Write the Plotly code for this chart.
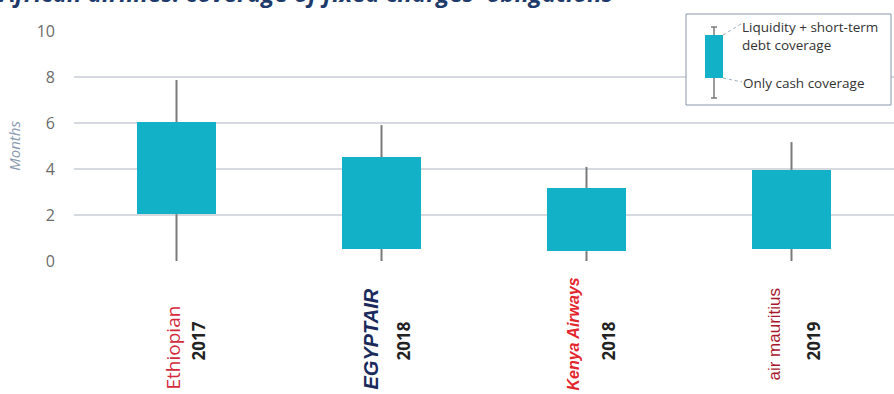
import plotly.graph_objects as go

airlines = ["Ethiopian", "EGYPTAIR", "Kenya Airways", "air mauritius"]
years = ["2017", "2018", "2018", "2019"]
logo_colors = ["#d42a3c", "#1b2a5c", "#e3262e", "#a8162c"]
cash_cov = [2.04, 0.52, 0.43, 0.52]        # box bottom: only cash coverage
liq_cov = [6.04, 4.52, 3.17, 3.96]         # box top: liquidity + short-term debt coverage
whisker_top = [7.87, 5.91, 4.09, 5.17]
whisker_bottom = [0, 0, 0, 0]

xs = list(range(len(airlines)))
TEAL = "#13b1c8"

fig = go.Figure()

# whiskers (two segments each, outside the box)
wx, wy = [], []
for i in xs:
    wx += [i, i, None, i, i, None]
    wy += [whisker_bottom[i], cash_cov[i], None, liq_cov[i], whisker_top[i], None]
fig.add_trace(go.Scatter(x=wx, y=wy, mode="lines",
                         line=dict(color="#7a7a7a", width=2),
                         hoverinfo="skip", showlegend=False))

# boxes
fig.add_trace(go.Bar(x=xs, y=[t - b for t, b in zip(liq_cov, cash_cov)],
                     base=cash_cov, width=0.39,
                     marker=dict(color=TEAL, line=dict(width=0)),
                     showlegend=False))

# page geometry helpers (pixel -> paper)
L, R, T, B = 74, 0, 31, 133
W, H = 894, 394
PW, PH = W - L - R, H - T - B
def px(x):
    return (x - L) / PW
def py(y):
    return (H - B - y) / PH

annotations = []
shapes = []

# title (partly cut off at the top, as in the reference)
annotations.append(dict(
    text="<b><i>African airlines: coverage of fixed charges' obligations</i></b>",
    xref="paper", yref="paper", x=px(-4), y=py(11), xanchor="left", yanchor="bottom",
    showarrow=False, font=dict(size=24, color="#1f3b6b", family="Open Sans")))

# x labels: airline names and years
logo_offsets = [-4, -11, -14, -18]
logo_sizes = [19, 20, 16, 17]
logo_text = ["Ethiopian", "<b><i>EGYPTAIR</i></b>", "<b><i>Kenya Airways</i></b>", "air mauritius"]
logo_fams = ["Open Sans", "Liberation Sans", "Liberation Sans", "Liberation Sans"]
logo_yc = [348, 339, 334, 334]
for i in xs:
    cx = 74 + (i + 0.5) * PW / len(xs)
    annotations.append(dict(
        text=logo_text[i], xref="paper", yref="paper",
        x=px(cx + logo_offsets[i]), y=py(logo_yc[i]), textangle=-90,
        showarrow=False, xanchor="center", yanchor="middle",
        font=dict(size=logo_sizes[i], color=logo_colors[i], family=logo_fams[i])))
    annotations.append(dict(
        text="<b>" + years[i] + "</b>", xref="paper", yref="paper",
        x=px(cx + 21), y=py(341), textangle=-90,
        showarrow=False, xanchor="center", yanchor="middle",
        font=dict(size=17, color="#222222", family="Open Sans")))

# legend box
shapes.append(dict(type="rect", xref="paper", yref="paper",
                   x0=px(686), x1=px(891), y0=py(105), y1=py(14),
                   line=dict(color="#8a96aa", width=1), fillcolor="white"))
shapes.append(dict(type="line", xref="paper", yref="paper",
                   x0=px(714), x1=px(714), y0=py(98), y1=py(27),
                   line=dict(color="#7a7a7a", width=1.5)))
for yy in (27, 98):
    shapes.append(dict(type="line", xref="paper", yref="paper",
                       x0=px(711), x1=px(717), y0=py(yy), y1=py(yy),
                       line=dict(color="#7a7a7a", width=1.5)))
shapes.append(dict(type="rect", xref="paper", yref="paper",
                   x0=px(705), x1=px(723), y0=py(78), y1=py(35),
                   line=dict(width=0), fillcolor=TEAL))
shapes.append(dict(type="line", xref="paper", yref="paper",
                   x0=px(723), x1=px(741), y0=py(35), y1=py(24),
                   line=dict(color="#9aaabb", width=1, dash="dot")))
shapes.append(dict(type="line", xref="paper", yref="paper",
                   x0=px(723), x1=px(742), y0=py(78), y1=py(82),
                   line=dict(color="#9aaabb", width=1, dash="dot")))
annotations.append(dict(text="Liquidity + short-term<br>debt coverage",
                        xref="paper", yref="paper", x=px(740), y=py(36),
                        xanchor="left", yanchor="middle", align="left", showarrow=False,
                        font=dict(size=13.5, color="#333333", family="Open Sans")))
annotations.append(dict(text="Only cash coverage",
                        xref="paper", yref="paper", x=px(741), y=py(83),
                        xanchor="left", yanchor="middle", align="left", showarrow=False,
                        font=dict(size=13.5, color="#333333", family="Open Sans")))

fig.update_layout(
    width=W, height=H,
    margin=dict(l=L, r=R, t=T, b=B),
    paper_bgcolor="white", plot_bgcolor="white",
    annotations=annotations, shapes=shapes,
    font=dict(family="Open Sans"),
    bargap=0,
)
fig.update_xaxes(range=[-0.5, 3.5], showticklabels=False, showgrid=False,
                 zeroline=False, showline=False, ticks="")
fig.update_yaxes(range=[0, 10], dtick=2, showgrid=True, gridcolor="#d6dae0", gridwidth=1.5,
                 zeroline=False, showline=False, ticks="", ticklabelstandoff=18,
                 tickfont=dict(size=16, color="#6b6b6b", family="Open Sans"),
                 title=dict(text="<i>Months</i>", standoff=12,
                            font=dict(size=15, color="#8a9bb0", family="Open Sans")))

fig.write_html("out.html")
